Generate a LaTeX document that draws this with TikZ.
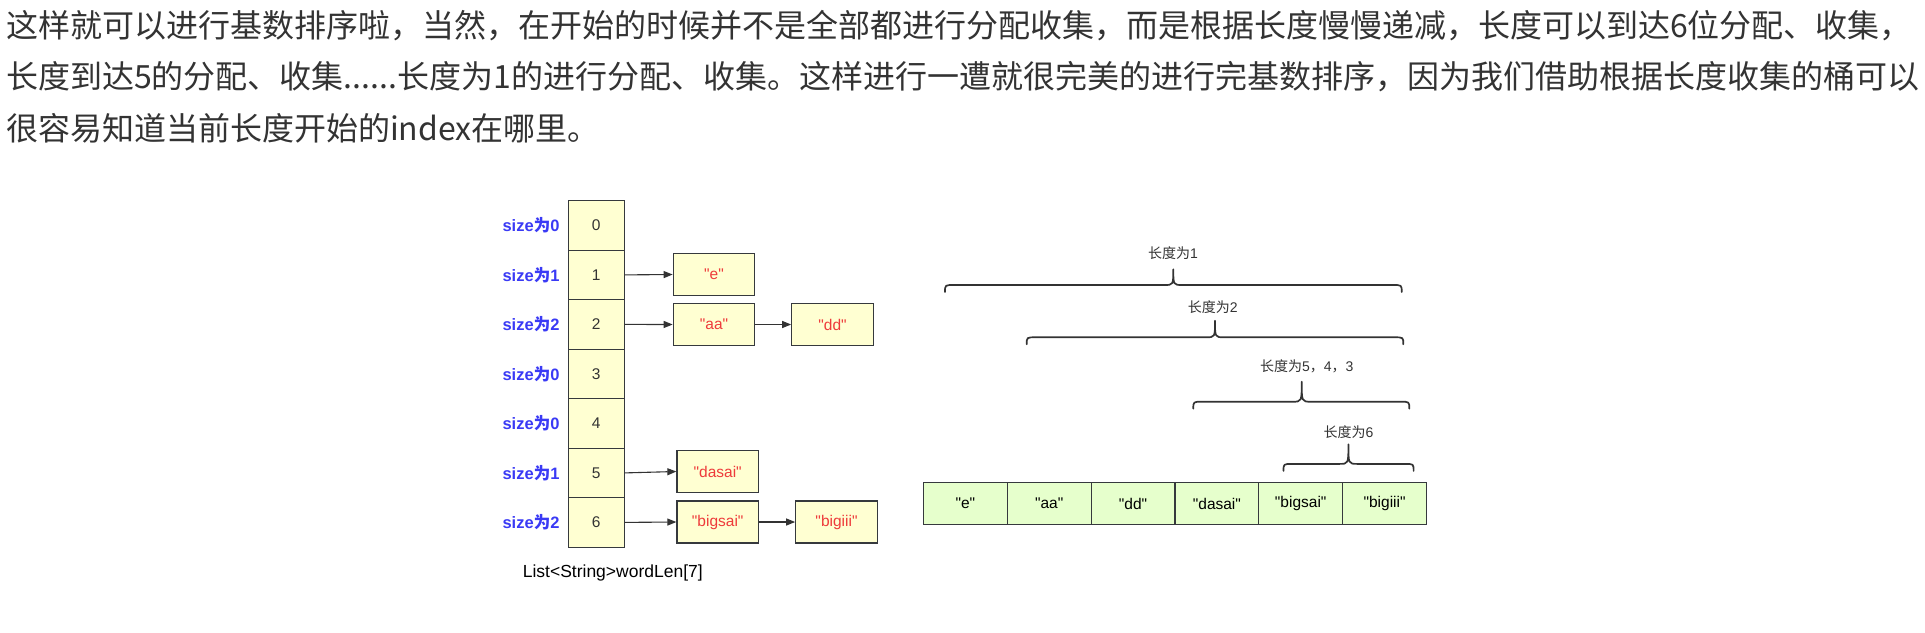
\documentclass[tikz,border=0pt]{standalone}
\usepackage{fontspec}
\setmainfont{Liberation Sans}
\newfontfamily\cjk{Noto Sans CJK SC}
\usetikzlibrary{arrows.meta}
\definecolor{txtgray}{HTML}{333333}
\definecolor{sizeblue}{HTML}{3A3AF5}
\definecolor{strred}{HTML}{EE3B3B}
\definecolor{cellyellow}{HTML}{FFFFD2}
\definecolor{cellgreen}{HTML}{E6FFCC}
\definecolor{edgegray}{HTML}{36393D}
\newcommand\qt[1]{\textquotedbl#1\textquotedbl}
\newcommand\mybrace[5]{%
  \draw[bracestyle] (#1,#3+7) .. controls (#1,#3) .. (#1+9,#3) -- (#4-9,#3)
    .. controls (#4,#3) .. (#4,#5) .. controls (#4,#3) .. (#4+9,#3)
    -- (#2-9,#3) .. controls (#2,#3) .. (#2,#3+7);}
\begin{document}
\begin{tikzpicture}[x=1pt,y=-1pt,
  para/.style={anchor=west,inner sep=0pt,text=txtgray,font=\cjk\fontsize{32}{34}\selectfont},
  cell/.style={draw=edgegray,line width=1.2pt,fill=cellyellow,minimum width=56pt,minimum height=49.5pt,inner sep=0pt,text=txtgray,font=\fontsize{15.5}{17}\selectfont},
  strbox/.style={draw=edgegray,line width=1.2pt,fill=cellyellow,minimum width=81.5pt,minimum height=42pt,inner sep=0pt,text=strred,font=\fontsize{15.5}{17}\selectfont},
  greencell/.style={draw=edgegray,line width=1.2pt,fill=cellgreen,minimum width=83.83pt,minimum height=42.3pt,inner sep=0pt,text=black,font=\fontsize{15.5}{17}\selectfont},
  sizelbl/.style={text=sizeblue,inner sep=0pt,font=\bfseries\fontsize{16.5}{18}\selectfont},
  bracelbl/.style={text=txtgray,inner sep=0pt,font=\fontsize{14}{15}\selectfont},
  arr/.style={draw=txtgray,line width=1.1pt,-{Triangle[length=9pt,width=7pt]}},
  bracestyle/.style={draw=txtgray,line width=1.7pt,line cap=round,line join=round}]
\useasboundingbox (0,0) rectangle (1925,632);
% paragraph
\node[para] (p1) at (6,26) {这样就可以进行基数排序啦，当然，在开始的时候并不是全部都进行分配收集，而是根据长度慢慢递减，长度可以到达6位分配、收集，};
\node[para] (p2) at (6,77) {长度到达5的分配、收集......长度为1的进行分配、收集。这样进行一遭就很完美的进行完基数排序，因为我们借助根据长度收集的桶可以};
\node[para] (p3) at (6,128) {很容易知道当前长度开始的index在哪里。};
% array cells
\foreach \i in {0,...,6}{
  \node[cell] (c\i) at (596.3,{225.4+49.5*\i}) {\i};
}
% size labels
\node[sizelbl] (s0) at (531,225.4) {size{\cjk 为}0};
\node[sizelbl] (s1) at (531,274.9) {size{\cjk 为}1};
\node[sizelbl] (s2) at (531,324.4) {size{\cjk 为}2};
\node[sizelbl] (s3) at (531,373.9) {size{\cjk 为}0};
\node[sizelbl] (s4) at (531,423.4) {size{\cjk 为}0};
\node[sizelbl] (s5) at (531,472.9) {size{\cjk 为}1};
\node[sizelbl] (s6) at (531,522.4) {size{\cjk 为}2};
% string boxes
\node[strbox] (e) at (714,274.5) {\qt{e}};
\node[strbox] (aa) at (714,324.5) {\qt{aa}};
\node[strbox] (dd) at (832.5,324.5) {\qt{dd}};
\node[strbox] (dasai) at (717.7,471.5) {\qt{dasai}};
\node[strbox] (bigsai) at (717.7,522) {\qt{bigsai}};
\node[strbox] (bigiii) at (836.5,522) {\qt{bigiii}};
\draw[arr] (c1.east) -- (e.west);
\draw[arr] (c2.east) -- (aa.west);
\draw[arr] (aa.east) -- (dd.west);
\draw[arr] (c5.east) -- (dasai.west);
\draw[arr] (c6.east) -- (bigsai.west);
\draw[arr] (bigsai.east) -- (bigiii.west);
\node[inner sep=0pt,text=black,font=\fontsize{17.5}{19}\selectfont] (cap) at (612.8,573.3) {List<String>wordLen[7]};
% green row
\node[greencell] (g1) at (965.4,503.7) {\qt{e}};
\node[greencell] (g2) at (1049.2,503.7) {\qt{aa}};
\node[greencell] (g3) at (1133.1,503.7) {\qt{dd}};
\node[greencell] (g4) at (1216.9,503.7) {\qt{dasai}};
\node[greencell] (g5) at (1300.7,503.7) {\qt{bigsai}};
\node[greencell] (g6) at (1384.6,503.7) {\qt{bigiii}};
% braces
\mybrace{945}{1401.7}{285}{1173.3}{269.3}
\node[bracelbl] (b1) at (1173,253.3) {{\cjk 长度为}1};
\mybrace{1026.7}{1403.3}{337.3}{1215}{320.7}
\node[bracelbl] (b2) at (1212.7,307.3) {{\cjk 长度为}2};
\mybrace{1193.3}{1409.3}{401.7}{1301.7}{381.7}
\node[bracelbl] (b3) at (1306.7,366.7) {{\cjk 长度为}5{\cjk ，}4{\cjk ，}3};
\mybrace{1283.5}{1413.6}{463.9}{1348.4}{444.3}
\node[bracelbl] (b4) at (1348.4,431.8) {{\cjk 长度为}6};
\end{tikzpicture}
\end{document}
